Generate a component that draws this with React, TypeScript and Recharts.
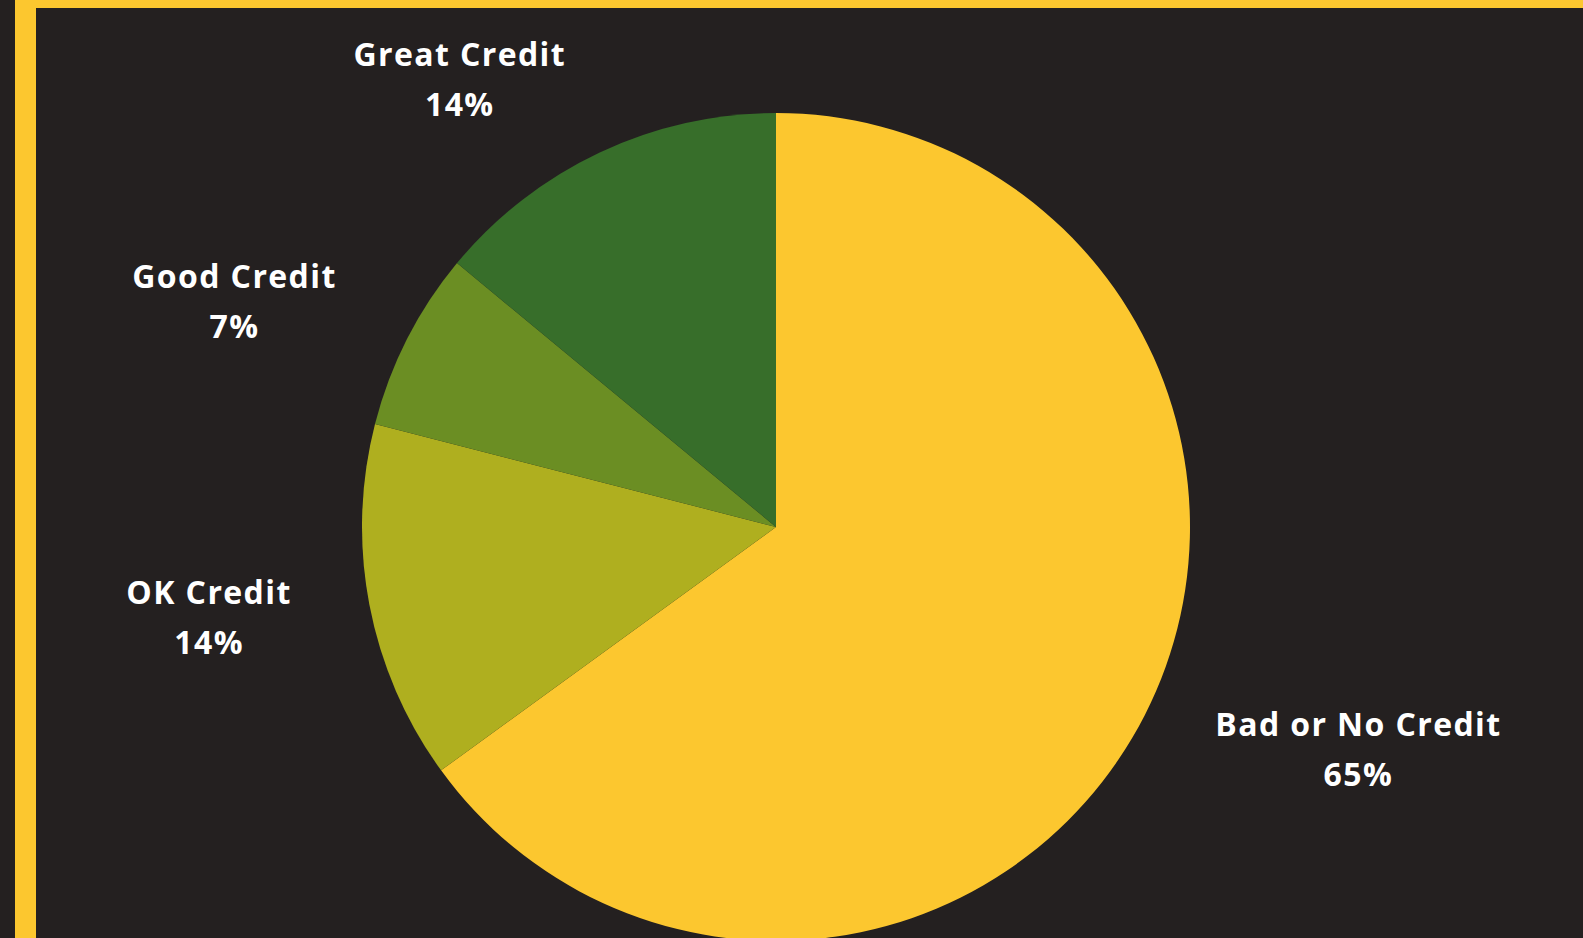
import React from 'react';
import { PieChart, Pie, Cell } from 'recharts';

const categories = ['Bad or No Credit', 'OK Credit', 'Good Credit', 'Great Credit'];
const shares = [65, 14, 7, 14];
const sliceColors = ['#FCC72F', '#AFAF1F', '#6B8E23', '#376E2A'];

const data = categories.map((name, i) => ({ name, value: shares[i] }));

const RADIAN = Math.PI / 180;
const LABEL_FONT = '"Open Sans", sans-serif';
const LABEL_SIZE = 32;
const LABEL_WEIGHT = 700;
const LABEL_SPACING = 1.4;

// measure label width so the percentage can sit centred under the name
const measure = (text: string) => {
  const ctx: any = document.createElement('canvas').getContext('2d');
  if (!ctx) return text.length * 18;
  ctx.font = `${LABEL_WEIGHT} ${LABEL_SIZE}px ${LABEL_FONT}`;
  if ('letterSpacing' in ctx) {
    ctx.letterSpacing = `${LABEL_SPACING}px`;
    return ctx.measureText(text).width;
  }
  return ctx.measureText(text).width + text.length * LABEL_SPACING;
};

const renderLabel = ({ cx, cy, midAngle, outerRadius, name, value }: any) => {
  const r = outerRadius + 79;
  const cos = Math.cos(-midAngle * RADIAN);
  const sin = Math.sin(-midAngle * RADIAN);
  const ex = cx + r * cos;
  const ey = cy + r * sin;
  const w = measure(name);
  const x = cos >= 0 ? ex + w / 2 : ex - w / 2;
  return (
    <text
      x={x}
      y={ey}
      fill="#ffffff"
      textAnchor="middle"
      fontFamily={LABEL_FONT}
      fontSize={LABEL_SIZE}
      fontWeight={LABEL_WEIGHT}
      letterSpacing={LABEL_SPACING}
    >
      <tspan x={x} y={ey - 15}>{name}</tspan>
      <tspan x={x} y={ey + 35}>{`${value}%`}</tspan>
    </text>
  );
};

export default function App() {
  return (
    <div
      style={{
        position: 'fixed',
        top: 0,
        left: 0,
        width: 1583,
        height: 938,
        background: '#242020',
        overflow: 'hidden',
      }}
    >
      <div style={{ position: 'absolute', left: 15, top: 0, width: 21, height: 938, background: '#FCC72F' }} />
      <div style={{ position: 'absolute', left: 15, top: 0, right: 0, height: 8, background: '#FCC72F' }} />
      <div style={{ position: 'absolute', left: 0, top: 0 }}>
        <PieChart width={1583} height={938}>
          <Pie
            data={data}
            dataKey="value"
            nameKey="name"
            cx={771}
            cy={522}
            outerRadius={414}
            startAngle={90}
            endAngle={-270}
            stroke="none"
            label={renderLabel}
            labelLine={false}
            isAnimationActive={false}
          >
            {data.map((d, i) => (
              <Cell key={d.name} fill={sliceColors[i]} />
            ))}
          </Pie>
        </PieChart>
      </div>
    </div>
  );
}
